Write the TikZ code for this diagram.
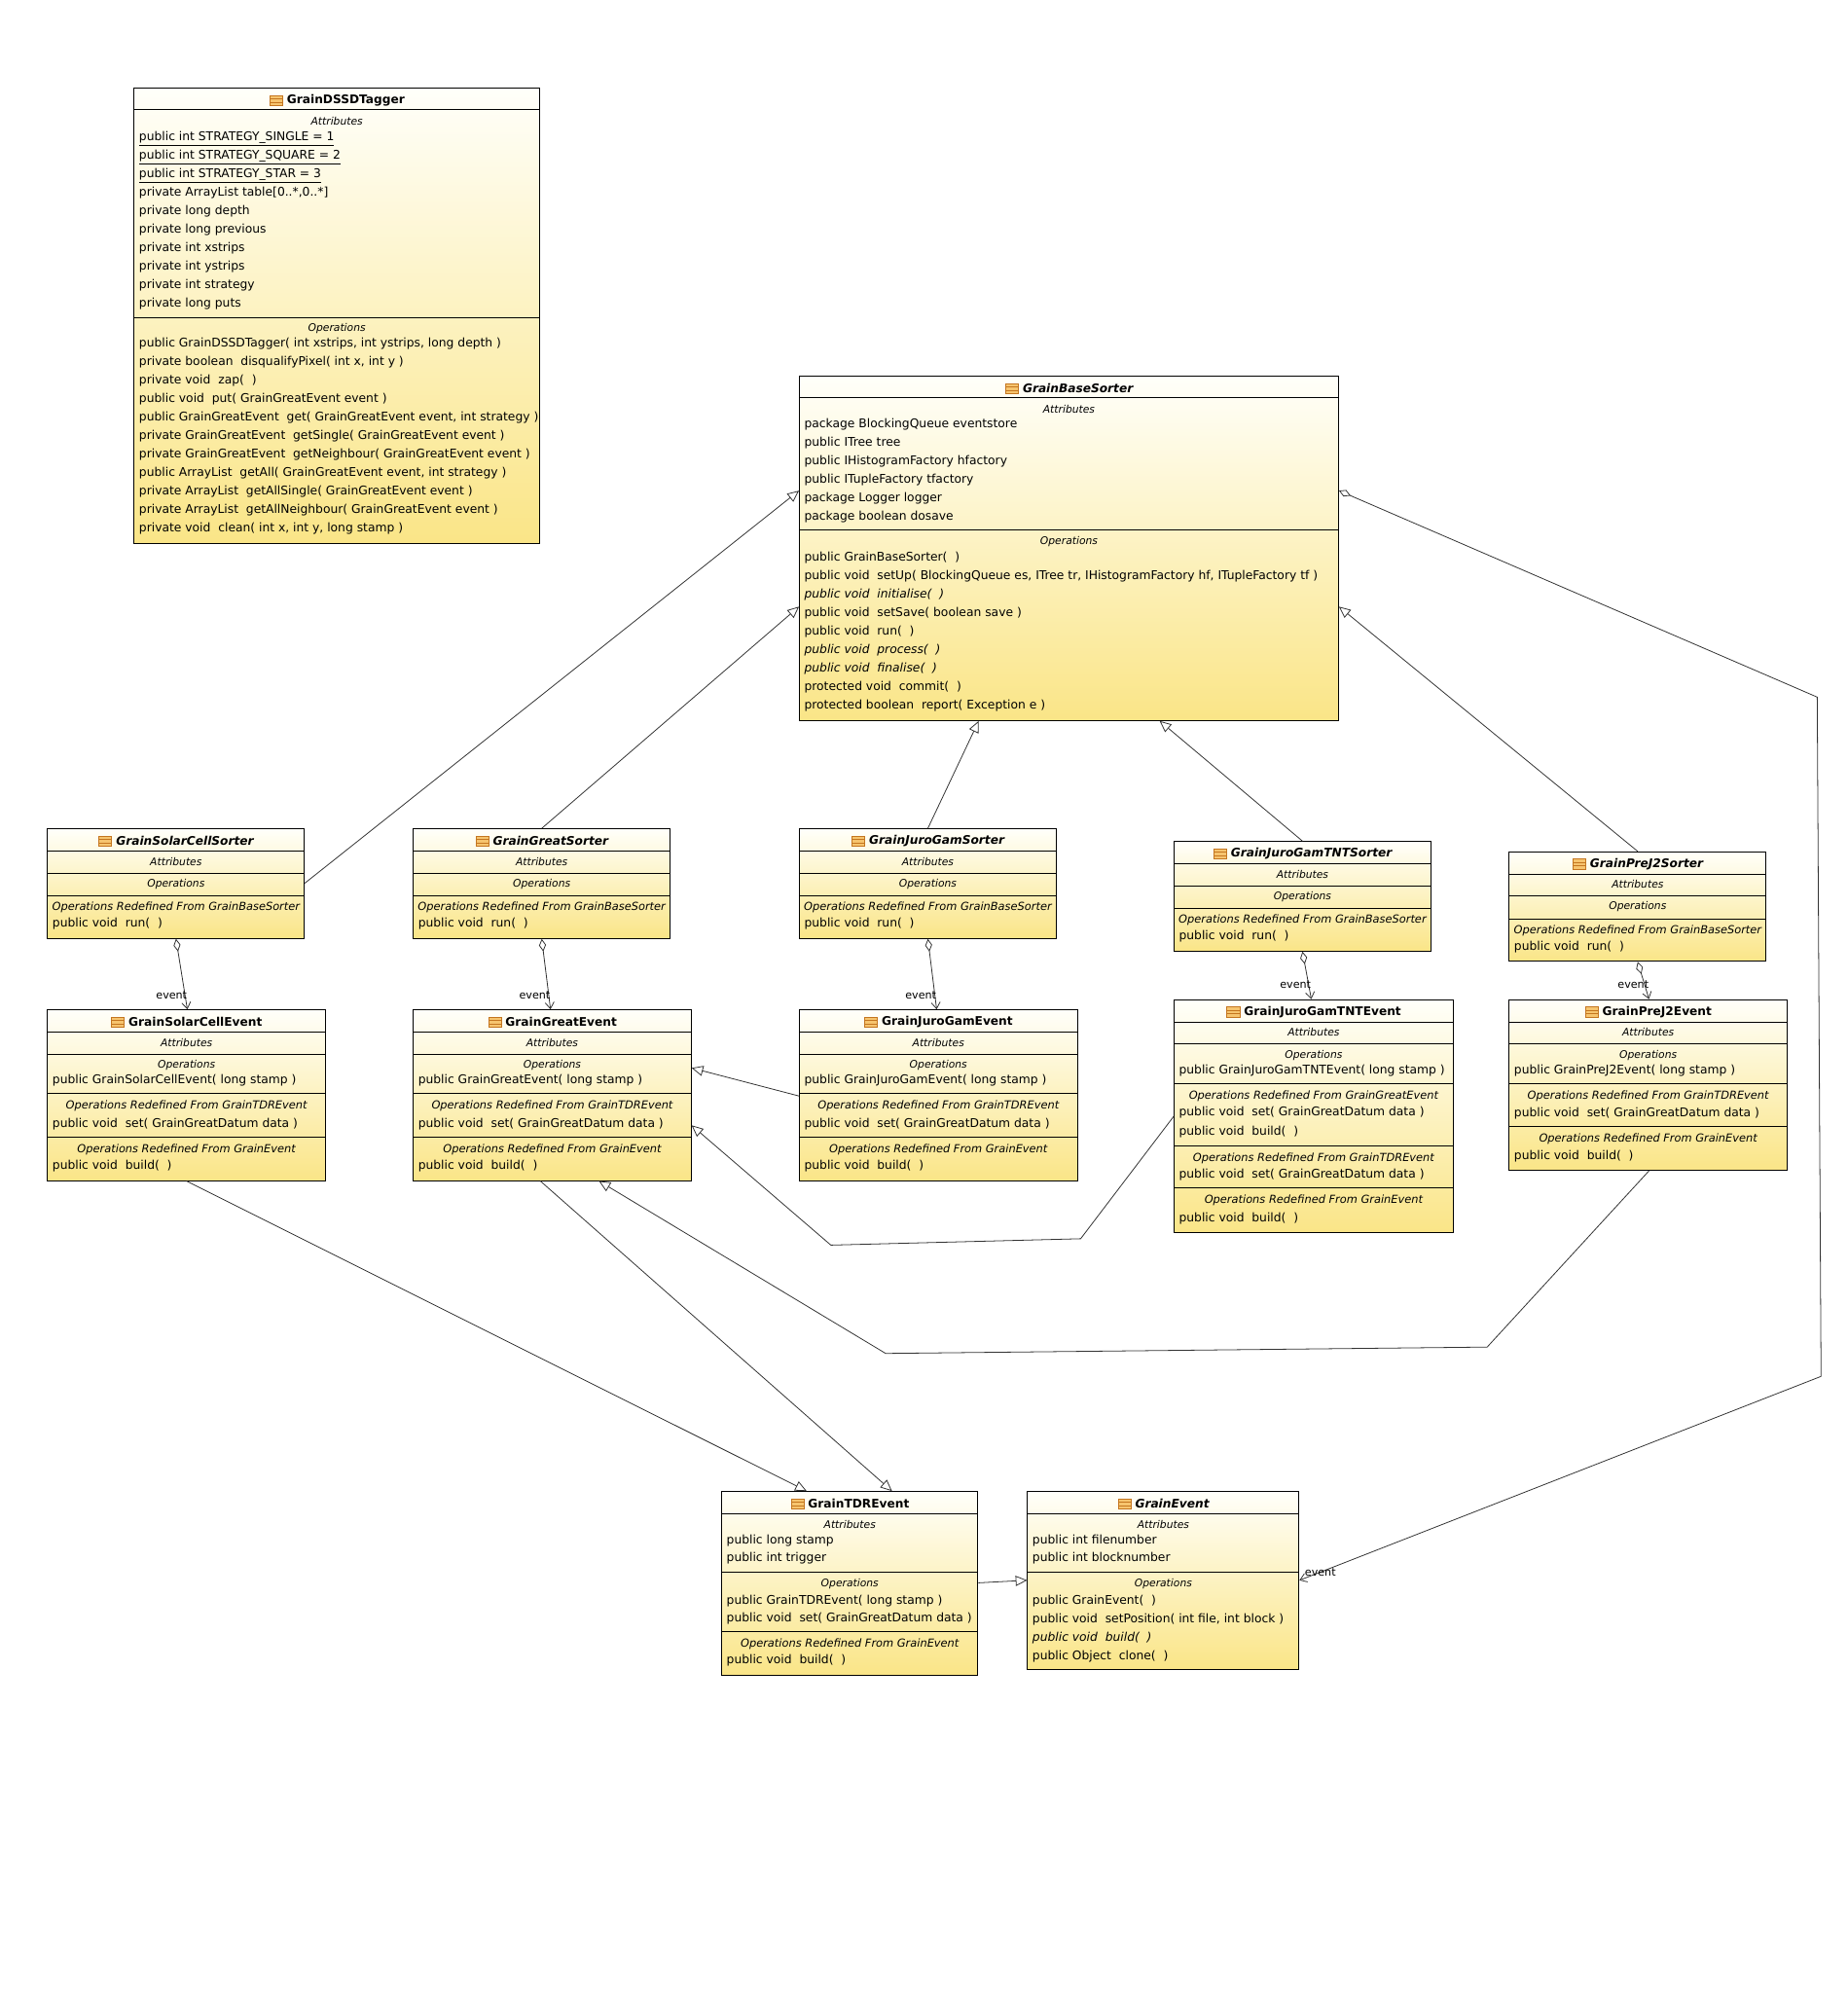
\documentclass[tikz,border=0pt]{standalone}
\usepackage{fontspec}
\setmainfont{DejaVu Sans}
\usepackage{tikz}
\usetikzlibrary{arrows.meta}
\usetikzlibrary{positioning}
\usetikzlibrary{calc}
\definecolor{umltop}{RGB}{255,255,250}
\definecolor{umlyellow}{RGB}{250,229,135}
\definecolor{iconfill}{RGB}{246,196,110}
\definecolor{icondark}{RGB}{196,118,32}
\definecolor{linkgray}{RGB}{50,50,50}
\tikzstyle{classbox} = [rectangle, anchor=north west, inner sep=0pt,
draw=black, line width=0.7pt,
top color=umltop, bottom color=umlyellow]
\tikzstyle{classicon} = [rectangle, inner sep=0pt,
minimum width=10pt, minimum height=8pt,
draw=icondark, fill=iconfill, line width=0.5pt,
path picture={\draw[icondark, line width=0.4pt] ([yshift=1.4pt]path picture bounding box.west) -- ([yshift=1.4pt]path picture bounding box.east);
\draw[icondark, line width=0.4pt] ([yshift=-1.4pt]path picture bounding box.west) -- ([yshift=-1.4pt]path picture bounding box.east);}]
\tikzstyle{classname} = [inner sep=0pt, font=\fontsize{9.3}{11}\selectfont\bfseries]
\tikzstyle{abstractname} = [inner sep=0pt, font=\fontsize{9.3}{11}\selectfont\bfseries\itshape]
\tikzstyle{compartment} = [inner sep=0pt, font=\fontsize{8.2}{9}\selectfont\itshape]
\tikzstyle{member} = [anchor=west, inner sep=0pt,
text height=7.1pt, text depth=2pt,
font=\fontsize{9.4}{11}\selectfont]
\tikzstyle{redefined} = [inner sep=0pt, text height=6.6pt, text depth=1.9pt,
font=\fontsize{8.7}{10}\selectfont\itshape]
\tikzstyle{divider} = [draw=black, line width=0.7pt]
\tikzstyle{inherit} = [draw=linkgray, line width=0.6pt, -{Triangle[open, length=9pt, width=8pt]}]
\tikzstyle{aggregate} = [draw=linkgray, line width=0.6pt,
{Diamond[open, length=10pt, width=5.5pt]}-{Straight Barb[length=5pt, width=7pt]}]
\tikzstyle{rolelabel} = [inner sep=1pt, font=\fontsize{8.5}{10}\selectfont]
\begin{document}
\begin{tikzpicture}[x=1pt, y=-1pt]
\useasboundingbox (0,0) rectangle (1450,1567);
\fill[white] (0,0) rectangle (1450,1567);

% GrainDSSDTagger
\node[classbox, minimum width=318, minimum height=357] (tagger) at (105,69) {};
\node[classname] (tagger-t) at ($(tagger.north)+(7,10)$) {GrainDSSDTagger};
\node[classicon, left=3pt of tagger-t] {};
\draw[divider] ($(tagger.north west)+(0,17)$) -- ($(tagger.north east)+(0,17)$);
\node[compartment] at ($(tagger.north)+(0,26)$) {Attributes};
\foreach \m [count=\i from 0] in {\underline{public int STRATEGY\_SINGLE = 1},
  \underline{public int STRATEGY\_SQUARE = 2}, \underline{public int STRATEGY\_STAR = 3},
  {private ArrayList table[0..*,0..*]}, private long depth, private long previous,
  private int xstrips, private int ystrips, private int strategy, private long puts}
  \node[member] at ($(tagger.north west)+(4,39+14.5*\i)$) {\m};
\draw[divider] ($(tagger.north west)+(0,180)$) -- ($(tagger.north east)+(0,180)$);
\node[compartment] at ($(tagger.north)+(0,189)$) {Operations};
\foreach \m [count=\i from 0] in {{public GrainDSSDTagger( int xstrips, int ystrips, long depth )},
  {private boolean~ disqualifyPixel( int x, int y )}, private void~ zap(~ ),
  public void~ put( GrainGreatEvent event ),
  {public GrainGreatEvent~ get( GrainGreatEvent event, int strategy )},
  private GrainGreatEvent~ getSingle( GrainGreatEvent event ),
  private GrainGreatEvent~ getNeighbour( GrainGreatEvent event ),
  {public ArrayList~ getAll( GrainGreatEvent event, int strategy )},
  private ArrayList~ getAllSingle( GrainGreatEvent event ),
  private ArrayList~ getAllNeighbour( GrainGreatEvent event ),
  {private void~ clean( int x, int y, long stamp )}}
  \node[member] at ($(tagger.north west)+(4,201+14.5*\i)$) {\m};

% GrainBaseSorter
\node[classbox, minimum width=423, minimum height=270] (base) at (627,295) {};
\node[abstractname] (base-t) at ($(base.north)+(7,10)$) {GrainBaseSorter};
\node[classicon, left=3pt of base-t] {};
\draw[divider] ($(base.north west)+(0,17)$) -- ($(base.north east)+(0,17)$);
\node[compartment] at ($(base.north)+(0,26)$) {Attributes};
\foreach \m [count=\i from 0] in {package BlockingQueue eventstore, public ITree tree,
  public IHistogramFactory hfactory, public ITupleFactory tfactory,
  package Logger logger, package boolean dosave}
  \node[member] at ($(base.north west)+(4,38+14.5*\i)$) {\m};
\draw[divider] ($(base.north west)+(0,121)$) -- ($(base.north east)+(0,121)$);
\node[compartment] at ($(base.north)+(0,130)$) {Operations};
\foreach \m [count=\i from 0] in {public GrainBaseSorter(~ ),
  {public void~ setUp( BlockingQueue es, ITree tr, IHistogramFactory hf, ITupleFactory tf )},
  \textit{public void~ initialise(~ )}, public void~ setSave( boolean save ),
  public void~ run(~ ), \textit{public void~ process(~ )}, \textit{public void~ finalise(~ )},
  protected void~ commit(~ ), protected boolean~ report( Exception e )}
  \node[member] at ($(base.north west)+(4,143+14.5*\i)$) {\m};

% sorters
\foreach \n/\x/\y/\t in {scs/37/650/GrainSolarCellSorter, gs/324/650/GrainGreatSorter,
  jgs/627/650/GrainJuroGamSorter, tnts/921/660/GrainJuroGamTNTSorter,
  pjs/1184/668/GrainPreJ2Sorter} {
  \node[classbox, minimum width=201.5, minimum height=86] (\n) at (\x,\y) {};
  \node[abstractname] (\n-t) at ($(\n.north)+(7,10)$) {\t};
  \node[classicon, left=3pt of \n-t] {};
  \draw[divider] ($(\n.north west)+(0,18)$) -- ($(\n.north east)+(0,18)$);
  \node[compartment] at ($(\n.north)+(0,26)$) {Attributes};
  \draw[divider] ($(\n.north west)+(0,35)$) -- ($(\n.north east)+(0,35)$);
  \node[compartment] at ($(\n.north)+(0,43.5)$) {Operations};
  \draw[divider] ($(\n.north west)+(0,53)$) -- ($(\n.north east)+(0,53)$);
  \node[redefined] at ($(\n.north)+(0,62)$) {Operations Redefined From GrainBaseSorter};
  \node[member] at ($(\n.north west)+(4,75)$) {public void~ run(~ )};
}

% events
\foreach \n/\x/\y/\t in {sce/37/792/GrainSolarCellEvent, ge/324/792/GrainGreatEvent,
  jge/627/792/GrainJuroGamEvent, pje/1184/784/GrainPreJ2Event} {
  \node[classbox, minimum width=218, minimum height=134] (\n) at (\x,\y) {};
  \node[classname] (\n-t) at ($(\n.north)+(7,10)$) {\t};
  \node[classicon, left=3pt of \n-t] {};
  \draw[divider] ($(\n.north west)+(0,18)$) -- ($(\n.north east)+(0,18)$);
  \node[compartment] at ($(\n.north)+(0,26)$) {Attributes};
  \draw[divider] ($(\n.north west)+(0,35)$) -- ($(\n.north east)+(0,35)$);
  \node[compartment] at ($(\n.north)+(0,44)$) {Operations};
  \node[member] at ($(\n.north west)+(4,56)$) {public \t( long stamp )};
  \draw[divider] ($(\n.north west)+(0,66)$) -- ($(\n.north east)+(0,66)$);
  \node[redefined] at ($(\n.north)+(0,76)$) {Operations Redefined From GrainTDREvent};
  \node[member] at ($(\n.north west)+(4,90)$) {public void~ set( GrainGreatDatum data )};
  \draw[divider] ($(\n.north west)+(0,100)$) -- ($(\n.north east)+(0,100)$);
  \node[redefined] at ($(\n.north)+(0,110)$) {Operations Redefined From GrainEvent};
  \node[member] at ($(\n.north west)+(4,123)$) {public void~ build(~ )};
}

% GrainJuroGamTNTEvent
\node[classbox, minimum width=219, minimum height=183] (tnte) at (921,784) {};
\node[classname] (tnte-t) at ($(tnte.north)+(7,10)$) {GrainJuroGamTNTEvent};
\node[classicon, left=3pt of tnte-t] {};
\draw[divider] ($(tnte.north west)+(0,18)$) -- ($(tnte.north east)+(0,18)$);
\node[compartment] at ($(tnte.north)+(0,26)$) {Attributes};
\draw[divider] ($(tnte.north west)+(0,35)$) -- ($(tnte.north east)+(0,35)$);
\node[compartment] at ($(tnte.north)+(0,44)$) {Operations};
\node[member] at ($(tnte.north west)+(4,56)$) {public GrainJuroGamTNTEvent( long stamp )};
\draw[divider] ($(tnte.north west)+(0,66)$) -- ($(tnte.north east)+(0,66)$);
\node[redefined] at ($(tnte.north)+(0,76)$) {Operations Redefined From GrainGreatEvent};
\node[member] at ($(tnte.north west)+(4,89)$) {public void~ set( GrainGreatDatum data )};
\node[member] at ($(tnte.north west)+(4,104)$) {public void~ build(~ )};
\draw[divider] ($(tnte.north west)+(0,115)$) -- ($(tnte.north east)+(0,115)$);
\node[redefined] at ($(tnte.north)+(0,125)$) {Operations Redefined From GrainTDREvent};
\node[member] at ($(tnte.north west)+(4,138)$) {public void~ set( GrainGreatDatum data )};
\draw[divider] ($(tnte.north west)+(0,148)$) -- ($(tnte.north east)+(0,148)$);
\node[redefined] at ($(tnte.north)+(0,158)$) {Operations Redefined From GrainEvent};
\node[member] at ($(tnte.north west)+(4,172)$) {public void~ build(~ )};

% GrainTDREvent
\node[classbox, minimum width=201, minimum height=144] (tdr) at (566,1170) {};
\node[classname] (tdr-t) at ($(tdr.north)+(7,10)$) {GrainTDREvent};
\node[classicon, left=3pt of tdr-t] {};
\draw[divider] ($(tdr.north west)+(0,18)$) -- ($(tdr.north east)+(0,18)$);
\node[compartment] at ($(tdr.north)+(0,26)$) {Attributes};
\node[member] at ($(tdr.north west)+(4,39)$) {public long stamp};
\node[member] at ($(tdr.north west)+(4,53)$) {public int trigger};
\draw[divider] ($(tdr.north west)+(0,64)$) -- ($(tdr.north east)+(0,64)$);
\node[compartment] at ($(tdr.north)+(0,73)$) {Operations};
\node[member] at ($(tdr.north west)+(4,86)$) {public GrainTDREvent( long stamp )};
\node[member] at ($(tdr.north west)+(4,100)$) {public void~ set( GrainGreatDatum data )};
\draw[divider] ($(tdr.north west)+(0,110)$) -- ($(tdr.north east)+(0,110)$);
\node[redefined] at ($(tdr.north)+(0,120)$) {Operations Redefined From GrainEvent};
\node[member] at ($(tdr.north west)+(4,133)$) {public void~ build(~ )};

% GrainEvent
\node[classbox, minimum width=213, minimum height=140] (ev) at (806,1170) {};
\node[abstractname] (ev-t) at ($(ev.north)+(7,10)$) {GrainEvent};
\node[classicon, left=3pt of ev-t] {};
\draw[divider] ($(ev.north west)+(0,18)$) -- ($(ev.north east)+(0,18)$);
\node[compartment] at ($(ev.north)+(0,26)$) {Attributes};
\node[member] at ($(ev.north west)+(4,39)$) {public int filenumber};
\node[member] at ($(ev.north west)+(4,53)$) {public int blocknumber};
\draw[divider] ($(ev.north west)+(0,64)$) -- ($(ev.north east)+(0,64)$);
\node[compartment] at ($(ev.north)+(0,73)$) {Operations};
\foreach \m [count=\i from 0] in {public GrainEvent(~ ), {public void~ setPosition( int file, int block )},
  \textit{public void~ build(~ )}, public Object~ clone(~ )}
  \node[member] at ($(ev.north west)+(4,86+14.5*\i)$) {\m};

% generalizations to GrainBaseSorter
\draw[inherit] ($(scs.north east)+(0,43)$) -- ($(base.north west)+(0,90)$);
\draw[inherit] (gs.north) -- ($(base.north west)+(0,181)$);
\draw[inherit] (jgs.north) -- ($(base.south west)+(141,0)$);
\draw[inherit] (tnts.north) -- ($(base.south west)+(283,0)$);
\draw[inherit] (pjs.north) -- ($(base.north east)+(0,181)$);

% sorter to event
\draw[aggregate] (scs.south) -- ($(sce.north west)+(110,0)$) node[rolelabel, anchor=south east, xshift=1pt, yshift=7pt] {event};
\draw[aggregate] (gs.south) -- ($(ge.north west)+(108,0)$) node[rolelabel, anchor=south east, xshift=1pt, yshift=7pt] {event};
\draw[aggregate] (jgs.south) -- ($(jge.north west)+(108,0)$) node[rolelabel, anchor=south east, xshift=1pt, yshift=7pt] {event};
\draw[aggregate] (tnts.south) -- ($(tnte.north west)+(108,0)$) node[rolelabel, anchor=south east, xshift=1pt, yshift=7pt] {event};
\draw[aggregate] (pjs.south) -- ($(pje.north west)+(110,0)$) node[rolelabel, anchor=south east, xshift=1pt, yshift=7pt] {event};
\draw[aggregate] ($(base.north east)+(0,90)$) -- (1426,547) -- (1429,1080) -- ($(ev.north east)+(0,70)$) node[rolelabel, anchor=south west, xshift=3pt, yshift=2pt] {event};

% event generalizations
\draw[inherit] ($(jge.north west)+(0,68)$) -- ($(ge.north east)+(0,46)$);
\draw[inherit] ($(tnte.north west)+(0,92)$) -- (848,972) -- (652,977) -- ($(ge.north east)+(0,91)$);
\draw[inherit] ($(pje.south west)+(110,0)$) -- (1167,1057) -- (695,1062) -- ($(ge.south west)+(146,0)$);
\draw[inherit] (sce.south) -- ($(tdr.north west)+(67,0)$);
\draw[inherit] ($(ge.south west)+(100,0)$) -- ($(tdr.north west)+(134,0)$);
\draw[inherit] ($(tdr.north east)+(0,72)$) -- ($(ev.north west)+(0,70)$);

\end{tikzpicture}
\end{document}
